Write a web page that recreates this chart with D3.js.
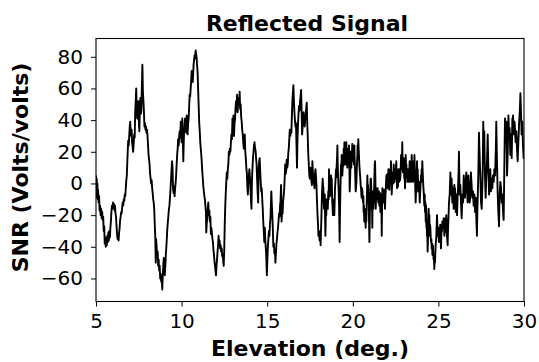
<!DOCTYPE html>
<html>
<head>
<meta charset="utf-8">
<script src="https://cdn.jsdelivr.net/npm/d3@7"></script>
<style>
  html, body { margin: 0; padding: 0; background: #fff; }
  svg { display: block; }
</style>
</head>
<body>
<div id="chart"></div>
<script>
// [elevation (deg), SNR] pairs, one array per 5 degrees
const seg05to10 = [[5.00,5],[5.02,-6],[5.04,3],[5.06,-9],[5.08,0],[5.10,-10],[5.12,-4],[5.15,-12],[5.18,-8],[5.21,-17],[5.24,-14],[5.27,-20],[5.30,-16],[5.33,-22],[5.36,-18],[5.39,-23],[5.42,-21],[5.45,-30],[5.48,-27],[5.51,-38],[5.54,-34],[5.57,-40],[5.60,-35],[5.63,-39],[5.66,-33],[5.69,-37],[5.72,-31],[5.75,-36],[5.78,-30],[5.81,-34],[5.84,-28],[5.87,-24],[5.90,-18],[5.93,-14],[5.96,-16],[5.99,-12],[6.02,-15],[6.05,-13],[6.08,-17],[6.11,-14],[6.14,-19],[6.17,-21],[6.20,-27],[6.23,-32],[6.26,-35],[6.29,-33],[6.32,-36],[6.35,-31],[6.38,-28],[6.41,-23],[6.44,-21],[6.47,-18],[6.50,-19],[6.53,-15],[6.56,-12],[6.59,-14],[6.62,-10],[6.65,-11],[6.68,-7],[6.71,-8],[6.74,-3],[6.77,2],[6.80,5],[6.83,14],[6.86,22],[6.88,27],[6.91,24],[6.94,30],[6.97,36],[7.00,39],[7.02,33],[7.05,30],[7.08,34],[7.11,26],[7.14,23],[7.17,20],[7.20,25],[7.23,31],[7.26,29],[7.29,45],[7.32,52],[7.35,60],[7.38,45],[7.41,41],[7.44,50],[7.47,52],[7.50,40],[7.53,33],[7.56,46],[7.59,54],[7.62,44],[7.65,47],[7.68,62],[7.71,75],[7.74,58],[7.77,52],[7.80,45],[7.83,36],[7.86,38],[7.89,34],[7.92,36],[7.95,32],[7.98,34],[8.01,30],[8.04,24],[8.07,18],[8.10,15],[8.13,12],[8.16,6],[8.19,3],[8.22,0],[8.25,2],[8.28,-3],[8.31,-6],[8.34,-10],[8.37,-12],[8.40,-16],[8.43,-25],[8.46,-33],[8.49,-50],[8.51,-35],[8.54,-40],[8.57,-45],[8.60,-43],[8.63,-52],[8.66,-48],[8.69,-55],[8.72,-52],[8.75,-60],[8.78,-57],[8.81,-62],[8.84,-60],[8.87,-67],[8.90,-58],[8.93,-52],[8.96,-47],[8.99,-53],[9.02,-58],[9.05,-52],[9.08,-45],[9.11,-40],[9.14,-34],[9.17,-28],[9.20,-24],[9.23,-20],[9.26,-16],[9.29,-14],[9.32,-9],[9.35,-4],[9.38,2],[9.41,8],[9.44,14],[9.47,10],[9.50,-3],[9.53,-6],[9.56,-2],[9.59,-8],[9.62,-3],[9.65,0],[9.68,5],[9.71,12],[9.74,18],[9.77,22],[9.80,28],[9.83,24],[9.86,30],[9.89,33],[9.92,29],[9.95,39],[9.98,30]]

const seg10to15 = [[10.00,26],[10.02,34],[10.04,41],[10.07,28],[10.10,14],[10.12,24],[10.14,31],[10.17,36],[10.20,41],[10.23,33],[10.26,37],[10.28,32],[10.30,43],[10.33,36],[10.35,31],[10.38,38],[10.41,41],[10.44,48],[10.47,56],[10.50,55],[10.53,60],[10.56,65],[10.59,71],[10.62,66],[10.65,64],[10.68,70],[10.70,75],[10.73,78],[10.76,81],[10.79,79],[10.82,84],[10.85,82],[10.88,79],[10.91,74],[10.94,69],[10.97,58],[11.00,48],[11.03,38],[11.06,33],[11.09,26],[11.12,22],[11.15,18],[11.18,13],[11.21,7],[11.24,3],[11.27,-2],[11.30,-5],[11.33,-8],[11.36,-10],[11.39,-14],[11.42,-18],[11.44,-31],[11.47,-25],[11.50,-22],[11.53,-16],[11.56,-12],[11.59,-20],[11.62,-17],[11.65,-24],[11.68,-21],[11.71,-32],[11.74,-28],[11.77,-31],[11.80,-35],[11.83,-37],[11.86,-42],[11.89,-45],[11.92,-49],[11.95,-52],[11.98,-55],[12.01,-58],[12.04,-52],[12.07,-48],[12.10,-43],[12.13,-39],[12.16,-33],[12.19,-38],[12.22,-36],[12.25,-41],[12.28,-39],[12.31,-43],[12.34,-41],[12.37,-46],[12.40,-45],[12.43,-49],[12.46,-52],[12.49,-42],[12.52,-26],[12.55,-14],[12.58,-6],[12.61,1],[12.64,7],[12.67,3],[12.70,9],[12.73,12],[12.76,20],[12.79,18],[12.82,22],[12.85,20],[12.88,26],[12.91,31],[12.94,28],[12.97,41],[13.00,36],[13.03,43],[13.06,30],[13.09,38],[13.12,40],[13.15,48],[13.18,52],[13.21,46],[13.24,56],[13.27,45],[13.30,50],[13.33,54],[13.36,50],[13.39,58],[13.42,47],[13.45,50],[13.48,42],[13.51,39],[13.54,34],[13.57,31],[13.60,26],[13.63,22],[13.66,28],[13.69,31],[13.72,20],[13.75,16],[13.78,10],[13.81,7],[13.84,-2],[13.87,-7],[13.90,1],[13.93,5],[13.96,9],[13.99,4],[14.02,-2],[14.05,-10],[14.08,-16],[14.11,2],[14.14,10],[14.17,16],[14.20,20],[14.23,24],[14.26,26],[14.29,22],[14.32,21],[14.35,16],[14.38,12],[14.41,3],[14.44,-5],[14.47,-12],[14.50,9],[14.53,14],[14.56,16],[14.59,8],[14.62,1],[14.65,-5],[14.68,-3],[14.71,-10],[14.74,-16],[14.77,-24],[14.80,-30],[14.83,-37],[14.86,-28],[14.89,-36],[14.92,-41],[14.95,-47],[14.98,-58]]

const seg15to20 = [[15.01,-48],[15.04,-40],[15.07,-35],[15.10,-30],[15.13,-33],[15.16,-26],[15.19,-22],[15.22,-12],[15.24,-5],[15.27,-13],[15.30,-20],[15.33,-29],[15.36,-40],[15.39,-38],[15.42,-44],[15.45,-42],[15.48,-50],[15.51,-44],[15.54,-38],[15.57,-35],[15.60,-31],[15.63,-28],[15.66,-24],[15.69,-19],[15.72,-21],[15.75,-14],[15.78,-11],[15.81,-1],[15.84,-24],[15.87,-17],[15.90,-19],[15.93,-11],[15.96,-8],[15.99,-4],[16.02,3],[16.05,12],[16.08,6],[16.11,8],[16.14,15],[16.17,10],[16.20,12],[16.23,19],[16.26,22],[16.29,28],[16.32,34],[16.35,30],[16.38,33],[16.41,32],[16.44,42],[16.47,52],[16.50,57],[16.53,62],[16.56,52],[16.59,45],[16.62,40],[16.65,36],[16.68,38],[16.71,25],[16.74,10],[16.77,28],[16.80,38],[16.83,44],[16.86,49],[16.89,46],[16.92,52],[16.95,55],[16.98,59],[17.01,46],[17.04,31],[17.07,36],[17.10,40],[17.13,45],[17.16,39],[17.19,36],[17.22,40],[17.25,43],[17.28,48],[17.31,51],[17.34,38],[17.37,29],[17.40,18],[17.43,12],[17.46,5],[17.49,3],[17.52,10],[17.55,6],[17.58,2],[17.61,-1],[17.64,14],[17.67,7],[17.70,4],[17.73,0],[17.76,-3],[17.79,6],[17.82,9],[17.85,4],[17.88,-2],[17.91,-12],[17.94,-20],[17.97,-26],[17.99,-33],[18.03,-31],[18.06,-36],[18.08,-35],[18.10,-30],[18.12,-39],[18.14,-30],[18.16,-24],[18.18,-15],[18.20,-7],[18.22,-2],[18.24,3],[18.26,-1],[18.28,-3],[18.30,-10],[18.32,-16],[18.34,-10],[18.36,-7],[18.38,-20],[18.40,-33],[18.43,-16],[18.45,-20],[18.47,-10],[18.49,-14],[18.51,-12],[18.54,-16],[18.57,-5],[18.59,-10],[18.61,9],[18.63,3],[18.65,-1],[18.67,-8],[18.69,-5],[18.71,0],[18.73,5],[18.75,-2],[18.77,3],[18.80,-12],[18.82,-15],[18.84,-20],[18.86,-12],[18.88,-16],[18.90,-10],[18.92,-20],[18.94,-12],[18.96,-3],[18.99,2],[19.02,9],[19.04,4],[19.06,12],[19.08,16],[19.10,24],[19.12,12],[19.14,5],[19.17,-3],[19.20,-15],[19.23,-37],[19.25,-20],[19.27,-7],[19.29,3],[19.31,12],[19.33,8],[19.35,18],[19.37,10],[19.39,5],[19.41,10],[19.43,14],[19.45,11],[19.47,22],[19.49,18],[19.51,26],[19.54,16],[19.56,12],[19.58,22],[19.60,19],[19.62,26],[19.64,20],[19.66,14],[19.68,10],[19.70,18],[19.72,13],[19.74,22],[19.76,16],[19.78,24],[19.80,12],[19.82,-5],[19.84,2],[19.86,9],[19.88,14],[19.89,20],[19.91,10],[19.93,14],[19.95,18],[19.97,25]]

const seg20to25 = [[20.01,22],[20.03,14],[20.05,18],[20.07,12],[20.09,24],[20.11,15],[20.13,9],[20.15,2],[20.17,-5],[20.19,-2],[20.21,1],[20.23,8],[20.25,14],[20.27,18],[20.28,24],[20.30,20],[20.32,28],[20.34,22],[20.36,18],[20.38,12],[20.40,9],[20.42,6],[20.44,3],[20.46,-1],[20.48,-3],[20.50,-7],[20.52,-9],[20.54,-3],[20.56,-5],[20.58,-10],[20.60,-12],[20.62,-8],[20.63,-18],[20.65,-14],[20.67,-24],[20.69,-16],[20.71,-18],[20.73,-22],[20.75,-28],[20.77,-20],[20.79,-24],[20.82,-10],[20.85,5],[20.87,-4],[20.89,-1],[20.91,-8],[20.93,-12],[20.95,-25],[20.97,-37],[21.00,-18],[21.02,-5],[21.04,3],[21.06,3],[21.08,-3],[21.10,-16],[21.12,-10],[21.14,-28],[21.16,-7],[21.18,-5],[21.20,-16],[21.22,-12],[21.24,-7],[21.26,3],[21.28,12],[21.30,14],[21.32,2],[21.34,-16],[21.36,-8],[21.37,-3],[21.39,-7],[21.41,-10],[21.43,-5],[21.45,-3],[21.47,-9],[21.49,-12],[21.51,-8],[21.53,-5],[21.55,-14],[21.57,-10],[21.59,-6],[21.61,-18],[21.63,-12],[21.65,-7],[21.67,-14],[21.69,-33],[21.71,-15],[21.73,-3],[21.75,-9],[21.76,-5],[21.78,-12],[21.80,-7],[21.82,-4],[21.84,-12],[21.86,-8],[21.88,-16],[21.90,-10],[21.92,-5],[21.94,0],[21.96,5],[21.98,-2],[22.00,3],[22.02,6],[22.04,-3],[22.06,2],[22.08,9],[22.10,4],[22.12,3],[22.13,-4],[22.15,1],[22.17,6],[22.19,9],[22.21,4],[22.23,14],[22.25,5],[22.27,-7],[22.29,-2],[22.31,1],[22.33,4],[22.35,7],[22.37,0],[22.39,12],[22.41,6],[22.43,1],[22.45,5],[22.47,9],[22.49,3],[22.50,5],[22.52,10],[22.54,14],[22.56,5],[22.58,-3],[22.60,0],[22.62,3],[22.64,-2],[22.66,9],[22.68,5],[22.70,1],[22.72,6],[22.74,9],[22.76,2],[22.78,5],[22.80,10],[22.82,18],[22.84,12],[22.85,9],[22.87,15],[22.89,26],[22.91,12],[22.93,7],[22.95,10],[22.97,16],[22.99,8],[23.01,3],[23.03,6],[23.05,-3],[23.07,8],[23.09,18],[23.11,10],[23.13,12],[23.15,4],[23.17,5],[23.19,1],[23.21,9],[23.22,5],[23.24,3],[23.26,8],[23.28,1],[23.30,6],[23.32,14],[23.34,9],[23.36,7],[23.38,3],[23.40,1],[23.42,10],[23.44,18],[23.46,11],[23.48,7],[23.50,4],[23.52,1],[23.54,8],[23.56,14],[23.58,9],[23.60,18],[23.62,10],[23.63,5],[23.65,-3],[23.67,-12],[23.69,-6],[23.71,-5],[23.73,4],[23.75,14],[23.77,6],[23.79,9],[23.81,2],[23.83,-5],[23.85,-2],[23.87,1],[23.89,-6],[23.91,-12],[23.93,-7],[23.95,-3],[23.97,2],[23.98,5],[24.00,1],[24.02,9],[24.04,4],[24.06,14],[24.08,8],[24.10,3],[24.12,-2],[24.14,-5],[24.16,-10],[24.18,-14],[24.20,-7],[24.22,-18],[24.24,-12],[24.26,-24],[24.28,-14],[24.30,-28],[24.32,-24],[24.33,-33],[24.35,-30],[24.37,-43],[24.39,-35],[24.41,-22],[24.43,-16],[24.45,-24],[24.47,-20],[24.49,-33],[24.51,-26],[24.53,-28],[24.55,-34],[24.57,-37],[24.59,-35],[24.61,-41],[24.63,-38],[24.65,-45],[24.67,-40],[24.68,-39],[24.70,-44],[24.72,-48],[24.74,-46],[24.76,-54],[24.78,-49],[24.80,-50],[24.82,-44],[24.84,-39],[24.86,-36],[24.88,-33],[24.90,-26],[24.92,-20],[24.94,-27],[24.96,-33],[24.98,-30]]

const seg25to30 = [[25.00,-28],[25.02,-35],[25.03,-37],[25.05,-30],[25.07,-33],[25.09,-29],[25.11,-26],[25.13,-34],[25.15,-41],[25.17,-33],[25.19,-28],[25.21,-30],[25.23,-24],[25.25,-27],[25.27,-28],[25.29,-25],[25.31,-22],[25.33,-28],[25.35,-33],[25.37,-27],[25.38,-31],[25.40,-26],[25.42,-22],[25.44,-28],[25.46,-20],[25.48,-26],[25.50,-33],[25.52,-36],[25.54,-39],[25.56,-30],[25.58,-24],[25.60,-18],[25.62,-12],[25.64,-9],[25.66,-7],[25.68,0],[25.70,7],[25.72,-2],[25.74,-7],[25.76,-2],[25.77,3],[25.79,-4],[25.81,-12],[25.83,-6],[25.85,-3],[25.87,-10],[25.89,-16],[25.91,-8],[25.93,-1],[25.95,-6],[25.97,-3],[25.99,-10],[26.01,-18],[26.03,-12],[26.05,-7],[26.07,-14],[26.09,-20],[26.11,-13],[26.12,-9],[26.14,-4],[26.16,1],[26.18,8],[26.20,20],[26.22,6],[26.24,-7],[26.26,-3],[26.28,-1],[26.30,-6],[26.32,-12],[26.34,-17],[26.36,-22],[26.38,-14],[26.40,-7],[26.42,-9],[26.44,-12],[26.46,-4],[26.48,5],[26.50,0],[26.51,-3],[26.53,-6],[26.55,-9],[26.57,-4],[26.59,1],[26.61,4],[26.63,7],[26.65,2],[26.67,-5],[26.69,-8],[26.71,-12],[26.73,-4],[26.75,5],[26.77,1],[26.79,-3],[26.81,-8],[26.83,-12],[26.85,-9],[26.86,-7],[26.88,0],[26.90,7],[26.92,3],[26.94,-1],[26.96,-5],[26.98,-9],[27.00,-6],[27.02,-5],[27.04,-10],[27.06,-14],[27.08,-10],[27.10,-7],[27.12,-12],[27.14,-18],[27.16,-14],[27.18,-9],[27.20,-16],[27.22,-24],[27.24,-29],[27.25,-33],[27.27,-20],[27.29,-12],[27.31,-3],[27.33,5],[27.35,18],[27.37,32],[27.39,24],[27.41,18],[27.43,10],[27.45,5],[27.47,-4],[27.49,-12],[27.51,-14],[27.53,-16],[27.55,-8],[27.57,-1],[27.59,9],[27.60,18],[27.62,39],[27.64,28],[27.66,22],[27.68,33],[27.70,18],[27.72,5],[27.74,-2],[27.76,-9],[27.78,-2],[27.80,5],[27.82,9],[27.84,14],[27.86,22],[27.88,31],[27.90,18],[27.92,9],[27.94,1],[27.96,-7],[27.97,-3],[27.99,1],[28.01,5],[28.03,9],[28.05,2],[28.07,-5],[28.09,-1],[28.11,3],[28.13,0],[28.15,-3],[28.17,1],[28.19,5],[28.21,3],[28.23,1],[28.25,5],[28.27,9],[28.29,7],[28.31,5],[28.33,12],[28.35,20],[28.37,30],[28.38,39],[28.40,26],[28.42,14],[28.44,5],[28.46,-5],[28.48,-12],[28.50,-18],[28.52,-22],[28.54,-27],[28.56,-15],[28.58,-7],[28.60,-3],[28.62,1],[28.64,-1],[28.66,-3],[28.68,-8],[28.70,-12],[28.72,-9],[28.73,-7],[28.75,-11],[28.77,-16],[28.79,-20],[28.81,-23],[28.83,-8],[28.85,9],[28.87,26],[28.89,41],[28.91,33],[28.93,26],[28.95,33],[28.97,39],[28.99,22],[29.01,5],[29.03,12],[29.05,20],[29.07,32],[29.09,43],[29.11,36],[29.12,31],[29.14,33],[29.16,35],[29.18,26],[29.20,18],[29.22,24],[29.24,31],[29.26,24],[29.28,16],[29.30,28],[29.32,41],[29.34,37],[29.36,43],[29.38,36],[29.40,31],[29.42,35],[29.44,39],[29.46,37],[29.47,35],[29.49,30],[29.51,26],[29.53,29],[29.55,33],[29.57,28],[29.59,22],[29.61,18],[29.63,14],[29.65,20],[29.67,26],[29.69,31],[29.71,37],[29.73,41],[29.75,45],[29.77,50],[29.79,57],[29.81,50],[29.83,43],[29.85,37],[29.86,31],[29.88,35],[29.90,39],[29.92,32],[29.94,24],[29.96,20],[29.98,16],[30.00,22]]

const xTicks = [5, 10, 15, 20, 25, 30]
const yTicks = [-60, -40, -20, 0, 20, 40, 60, 80]
const labels = {
  title: 'Reflected Signal',
  x: 'Elevation (deg.)',
  y: 'SNR (Volts/volts)'
}

const width = 539
const height = 362
const margin = { top: 38.5, right: 15, bottom: 60.5, left: 96 }
const innerWidth = width - margin.left - margin.right
const innerHeight = height - margin.top - margin.bottom
const font = '"DejaVu Sans", "Liberation Sans", sans-serif'

const signal = [].concat(seg05to10, seg10to15, seg15to20, seg20to25, seg25to30)

// matplotlib style autoscale: 5% padding on the data range
const [yMin, yMax] = d3.extent(signal, (d) => d[1])
const pad = (yMax - yMin) * 0.05

const x = d3.scaleLinear().domain([5, 30]).range([0, innerWidth])
const y = d3.scaleLinear().domain([yMin - pad, yMax + pad]).range([innerHeight, 0])

const svg = d3
  .select('#chart')
  .append('svg')
  .attr('width', width)
  .attr('height', height)
  .attr('font-family', font)

svg.append('rect').attr('width', width).attr('height', height).attr('fill', '#fff')

svg
  .append('defs')
  .append('clipPath')
  .attr('id', 'plot-clip')
  .append('rect')
  .attr('width', innerWidth)
  .attr('height', innerHeight)

const chart = svg.append('g').attr('transform', `translate(${margin.left},${margin.top})`)

const line = d3
  .line()
  .x((d) => x(d[0]))
  .y((d) => y(d[1]))

chart
  .append('path')
  .datum(signal)
  .attr('clip-path', 'url(#plot-clip)')
  .attr('d', line)
  .attr('fill', 'none')
  .attr('stroke', '#000')
  .attr('stroke-width', 1.9)
  .attr('stroke-linejoin', 'round')

const xAxis = chart
  .append('g')
  .attr('transform', `translate(0,${innerHeight})`)
  .call(d3.axisBottom(x).tickValues(xTicks).tickSize(5).tickPadding(7).tickFormat(d3.format('d')))

const yAxis = chart
  .append('g')
  .call(d3.axisLeft(y).tickValues(yTicks).tickSize(5).tickPadding(8).tickFormat(d3.format('d')))

for (const axis of [xAxis, yAxis]) {
  axis.attr('font-family', font).attr('font-size', 20)
  axis.select('.domain').remove()
  axis.selectAll('.tick line').attr('stroke', '#000').attr('stroke-width', 1)
  axis.selectAll('.tick text').attr('fill', '#000')
}

// frame
chart
  .append('rect')
  .attr('width', innerWidth)
  .attr('height', innerHeight)
  .attr('fill', 'none')
  .attr('stroke', '#000')
  .attr('stroke-width', 1.1)

svg
  .append('text')
  .attr('x', 307)
  .attr('y', 31)
  .attr('text-anchor', 'middle')
  .attr('font-size', 22)
  .attr('font-weight', 'bold')
  .text(labels.title)

svg
  .append('text')
  .attr('x', margin.left + innerWidth / 2)
  .attr('y', 356)
  .attr('text-anchor', 'middle')
  .attr('font-size', 22)
  .attr('font-weight', 'bold')
  .text(labels.x)

svg
  .append('text')
  .attr('transform', `translate(28,167.5) rotate(-90)`)
  .attr('text-anchor', 'middle')
  .attr('font-size', 22)
  .attr('font-weight', 'bold')
  .text(labels.y)
</script>
</body>
</html>
